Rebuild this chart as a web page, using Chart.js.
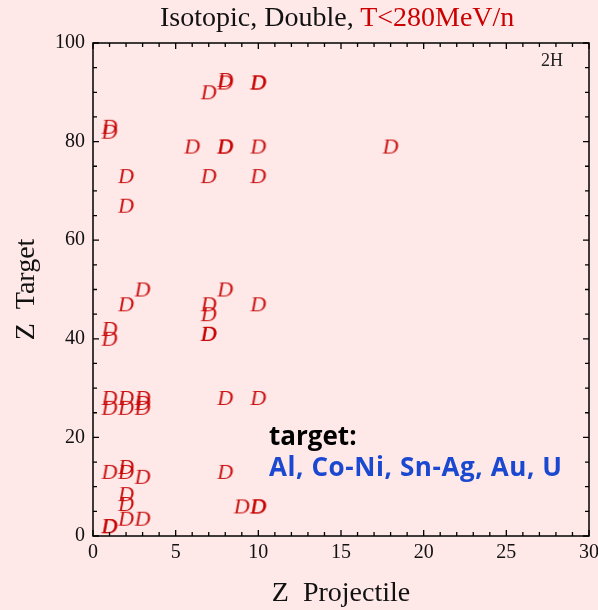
<!DOCTYPE html>
<html>
<head>
<meta charset="utf-8">
<script src="https://cdn.jsdelivr.net/npm/chart.js"></script>
<style>
  html, body { margin: 0; padding: 0; background: #fee8e8; }
  #wrap { position: relative; width: 598px; height: 610px; background: #fee8e8; }
  #plot { position: absolute; left: 0; top: 0; }
  .txt { position: absolute; white-space: nowrap; }
  #title { top: 1px; left: 160px; font: 28px "Liberation Serif", serif; color: #111; }
  #title .red { color: #cc0000; }
  #tag { top: 50px; left: 541px; font: 18px "Liberation Serif", serif; color: #222; }
  #note1 { top: 417px; left: 269px; font: bold 26px "Open Sans", sans-serif; color: #000; }
  #note2 { top: 448px; left: 269px; font: bold 26px "Open Sans", sans-serif; color: #1a48d0; letter-spacing: 0.6px; }
</style>
</head>
<body>
<div id="wrap">
  <canvas id="plot" width="598" height="610"></canvas>
  <div class="txt" id="title">Isotopic, Double, <span class="red">T&lt;280MeV/n</span></div>
  <div class="txt" id="tag">2H</div>
  <div class="txt" id="note1">target:</div>
  <div class="txt" id="note2">Al, Co-Ni, Sn-Ag, Au, U</div>
</div>
<script>
// projectile Z and target Z for each measured pair
const projZ = [7, 8, 8, 10, 10,
  1, 1,
  6, 8, 8, 10, 18,
  2, 7, 10,
  2,
  3, 2, 8, 7, 7, 10,
  1, 1, 7, 7,
  1, 2, 3, 1, 2, 3, 3, 8, 10,
  1, 2, 2, 3, 8,
  2, 2, 9, 10, 10,
  1, 1, 2, 3];
const targetZ = [90, 92, 92.5, 92, 92,
  83, 82,
  79, 79, 79, 79, 79,
  73, 73, 73,
  67,
  50, 47, 50, 47, 45, 47,
  42, 40, 41, 41,
  28, 28, 28, 26, 26, 26, 27, 28, 28,
  13, 14, 13, 12, 13,
  8.5, 6.5, 6, 6, 6,
  2, 2, 3.5, 3.5];
const xTickLabels = [0, 5, 10, 15, 20, 25, 30];
const yTickLabels = [0, 20, 40, 60, 80, 100];

// italic "D" glyph used as the marker
const mark = document.createElement('canvas');
mark.width = 24; mark.height = 24;
const mctx = mark.getContext('2d');
mctx.font = 'italic 22px "Liberation Serif", serif';
mctx.fillStyle = 'rgba(200, 0, 0, 0.92)';
mctx.textAlign = 'center';
mctx.textBaseline = 'middle';
mctx.fillText('D', 12, 13);

const points = projZ.map((x, i) => ({ x: x, y: targetZ[i] }));

// frame plus inward ticks on all four sides
const frameTicks = {
  id: 'frameTicks',
  afterDraw(chart) {
    const { ctx, chartArea: a, scales: { x, y } } = chart;
    ctx.save();
    ctx.strokeStyle = '#000';
    ctx.lineWidth = 1.5;
    ctx.strokeRect(a.left, a.top, a.right - a.left, a.bottom - a.top);
    ctx.lineWidth = 1.3;
    ctx.beginPath();
    x.ticks.forEach(t => {
      const px = x.getPixelForValue(t.value);
      const len = xTickLabels.includes(t.value) ? 6 : 4;
      ctx.moveTo(px, a.bottom); ctx.lineTo(px, a.bottom - len);
      ctx.moveTo(px, a.top); ctx.lineTo(px, a.top + len);
    });
    y.ticks.forEach(t => {
      const py = y.getPixelForValue(t.value);
      const len = yTickLabels.includes(t.value) ? 6 : 4;
      ctx.moveTo(a.left, py); ctx.lineTo(a.left + len, py);
      ctx.moveTo(a.right, py); ctx.lineTo(a.right - len, py);
    });
    ctx.stroke();
    ctx.restore();
  }
};

const serif = { family: '"Liberation Serif", serif', size: 20 };

new Chart(document.getElementById('plot'), {
  type: 'scatter',
  data: {
    datasets: [{
      data: points,
      pointStyle: mark,
      pointRadius: 8
    }]
  },
  options: {
    responsive: false,
    animation: false,
    layout: { padding: { top: 43, right: 9, left: 0, bottom: 0 } },
    plugins: { legend: { display: false }, tooltip: { enabled: false } },
    scales: {
      x: {
        type: 'linear', min: 0, max: 30,
        grid: { display: false },
        border: { display: false },
        afterFit: s => { s.height = 74; },
        ticks: {
          stepSize: 1, autoSkip: false, maxRotation: 0, padding: -3,
          color: '#111', font: serif,
          callback: v => xTickLabels.includes(v) ? String(v) : ''
        },
        title: { display: true, text: 'Z  Projectile', color: '#111',
          font: { family: '"Liberation Serif", serif', size: 28 }, padding: { top: 16, bottom: 0 } }
      },
      y: {
        type: 'linear', min: 0, max: 100,
        grid: { display: false },
        border: { display: false },
        afterFit: s => { s.width = 93; },
        ticks: {
          stepSize: 5, autoSkip: false, padding: 0,
          color: '#111', font: serif,
          callback: v => yTickLabels.includes(v) ? String(v) : ''
        },
        title: { display: true, text: 'Z  Target', color: '#111',
          font: { family: '"Liberation Serif", serif', size: 28 }, padding: { bottom: 0, top: 10 } }
      }
    }
  },
  plugins: [frameTicks]
});
</script>
</body>
</html>
